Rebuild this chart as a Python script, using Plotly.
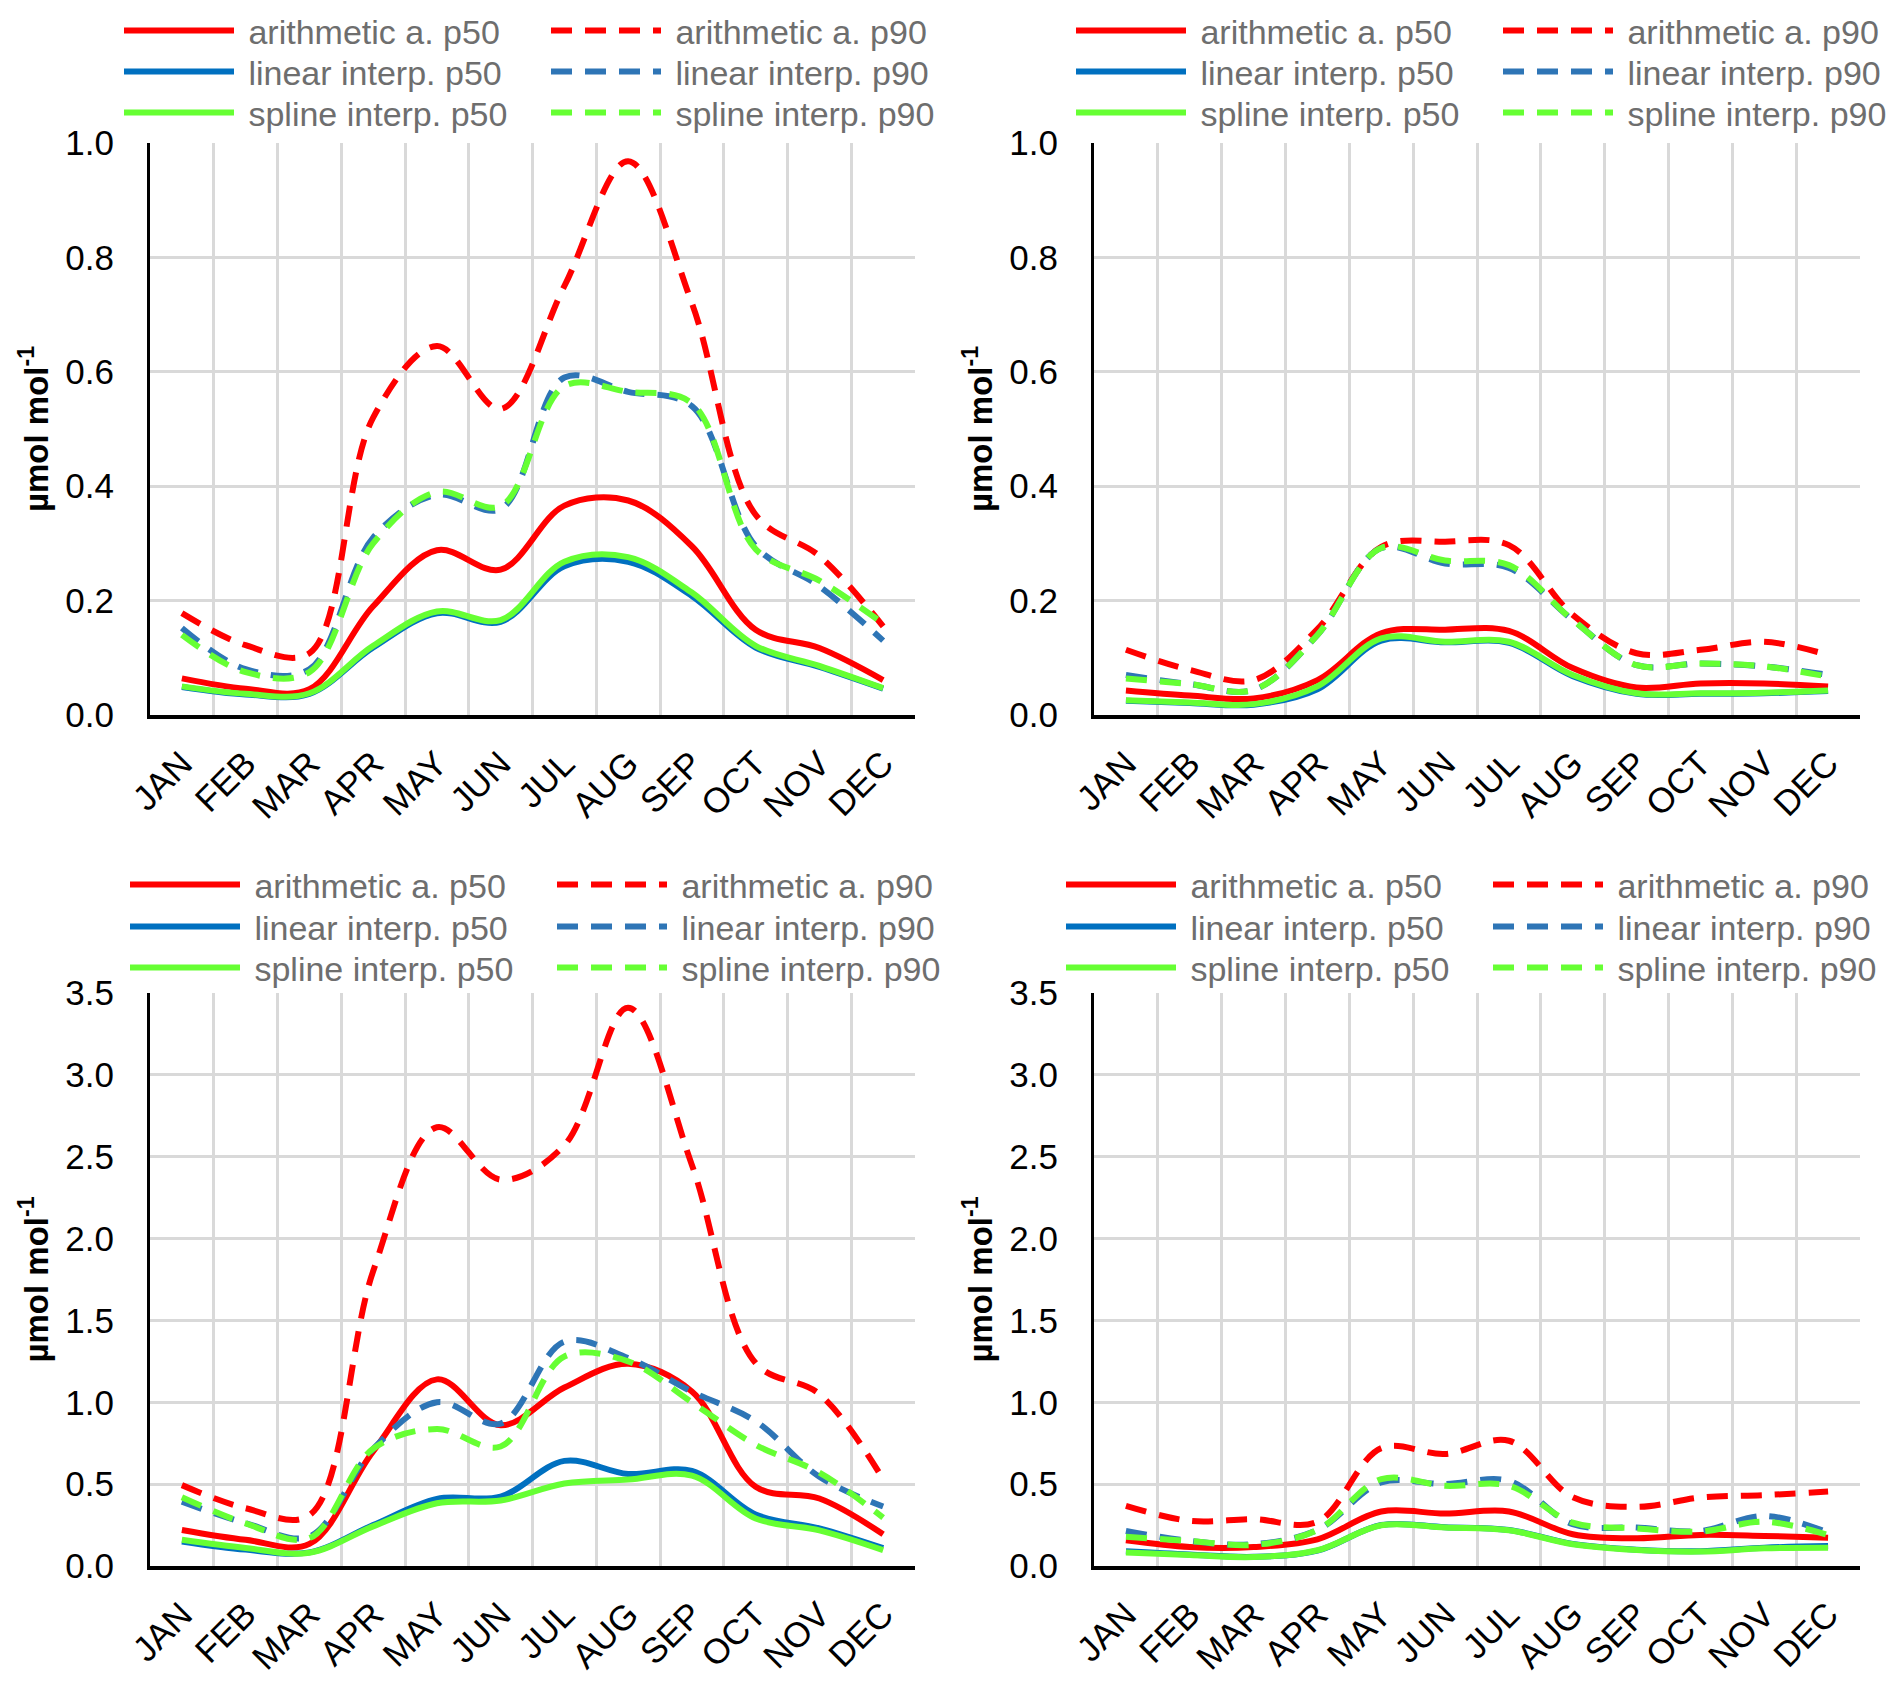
#!/usr/bin/env python3
"""
Monthly p50 / p90 mixing ratios: arithmetic average vs. linear and spline interpolation
"""

import plotly.graph_objects as go
from plotly.subplots import make_subplots

months = ["JAN", "FEB", "MAR", "APR", "MAY", "JUN", "JUL", "AUG", "SEP", "OCT", "NOV", "DEC"]

# top-left panel
a_arith_p50 = [0.064, 0.046, 0.045, 0.19, 0.288, 0.254, 0.366, 0.375, 0.295, 0.149, 0.117, 0.061]
a_linear_p50 = [0.049, 0.036, 0.037, 0.118, 0.178, 0.163, 0.26, 0.268, 0.208, 0.118, 0.084, 0.046]
a_spline_p50 = [0.05, 0.037, 0.038, 0.121, 0.181, 0.166, 0.268, 0.276, 0.214, 0.121, 0.086, 0.047]
a_arith_p90 = [0.178, 0.122, 0.108, 0.52, 0.645, 0.535, 0.75, 0.968, 0.72, 0.35, 0.278, 0.155]
a_linear_p90 = [0.152, 0.08, 0.08, 0.31, 0.385, 0.36, 0.59, 0.565, 0.54, 0.295, 0.225, 0.13]
a_spline_p90 = [0.14, 0.075, 0.075, 0.30, 0.39, 0.365, 0.575, 0.565, 0.545, 0.29, 0.235, 0.16]

# top-right panel
b_arith_p50 = [0.043, 0.034, 0.029, 0.061, 0.143, 0.149, 0.147, 0.082, 0.048, 0.055, 0.055, 0.05]
b_linear_p50 = [0.025, 0.021, 0.018, 0.045, 0.13, 0.127, 0.126, 0.068, 0.037, 0.037, 0.038, 0.042]
b_spline_p50 = [0.026, 0.022, 0.019, 0.05, 0.134, 0.128, 0.128, 0.07, 0.038, 0.038, 0.039, 0.043]
b_arith_p90 = [0.114, 0.079, 0.061, 0.15, 0.294, 0.303, 0.297, 0.175, 0.108, 0.114, 0.128, 0.105]
b_linear_p90 = [0.07, 0.054, 0.044, 0.14, 0.292, 0.265, 0.257, 0.166, 0.087, 0.09, 0.085, 0.07]
b_spline_p90 = [0.064, 0.054, 0.044, 0.14, 0.292, 0.27, 0.262, 0.166, 0.087, 0.09, 0.085, 0.067]

# bottom-left panel
c_arith_p50 = [0.22, 0.16, 0.135, 0.70, 1.14, 0.86, 1.09, 1.235, 1.066, 0.484, 0.412, 0.194]
c_linear_p50 = [0.15, 0.10, 0.083, 0.25, 0.41, 0.424, 0.642, 0.562, 0.581, 0.315, 0.23, 0.109]
c_spline_p50 = [0.16, 0.11, 0.081, 0.242, 0.383, 0.40, 0.504, 0.528, 0.552, 0.29, 0.218, 0.097]
c_arith_p90 = [0.494, 0.353, 0.31, 1.8, 2.68, 2.36, 2.57, 3.41, 2.45, 1.24, 1.05, 0.53]
c_linear_p90 = [0.393, 0.262, 0.18, 0.716, 1.0, 0.87, 1.37, 1.27, 1.065, 0.884, 0.545, 0.363]
c_spline_p90 = [0.42, 0.26, 0.17, 0.716, 0.837, 0.73, 1.28, 1.25, 1.0, 0.74, 0.57, 0.295]

# bottom-right panel
d_arith_p50 = [0.157, 0.116, 0.116, 0.163, 0.333, 0.32, 0.333, 0.194, 0.169, 0.19, 0.184, 0.173]
d_linear_p50 = [0.09, 0.07, 0.056, 0.094, 0.25, 0.237, 0.22, 0.135, 0.1, 0.09, 0.112, 0.122]
d_spline_p50 = [0.082, 0.067, 0.055, 0.096, 0.249, 0.235, 0.218, 0.133, 0.098, 0.088, 0.108, 0.112]
d_arith_p90 = [0.367, 0.276, 0.286, 0.27, 0.72, 0.684, 0.765, 0.42, 0.361, 0.418, 0.433, 0.455]
d_linear_p90 = [0.214, 0.153, 0.133, 0.22, 0.51, 0.5, 0.52, 0.255, 0.235, 0.214, 0.306, 0.204]
d_spline_p90 = [0.178, 0.153, 0.129, 0.22, 0.53, 0.49, 0.49, 0.265, 0.23, 0.21, 0.27, 0.19]

panels = [
    (a_arith_p50, a_arith_p90, a_linear_p50, a_linear_p90, a_spline_p50, a_spline_p90),
    (b_arith_p50, b_arith_p90, b_linear_p50, b_linear_p90, b_spline_p50, b_spline_p90),
    (c_arith_p50, c_arith_p90, c_linear_p50, c_linear_p90, c_spline_p50, c_spline_p90),
    (d_arith_p50, d_arith_p90, d_linear_p50, d_linear_p90, d_spline_p50, d_spline_p90),
]
series_names = [
    "arithmetic a. p50", "arithmetic a. p90",
    "linear interp. p50", "linear interp. p90",
    "spline interp. p50", "spline interp. p90",
]
series_colors = ["#FF0000", "#FF0000", "#0070C0", "#2E75B6", "#66FF33", "#66FF33"]
y_ranges = [(1.0, 0.2), (1.0, 0.2), (3.5, 0.5), (3.5, 0.5)]

W, H = 1892, 1689
# plot areas in pixels: (left, right, top, bottom)
boxes = [(150, 915, 143, 715), (1094, 1860, 143, 715), (150, 915, 993, 1566), (1094, 1860, 993, 1566)]
# legend: left edge of first sample and row centres
legend_x = [125, 1077, 131, 1067]
legend_rows = [(31, 72, 113), (31, 72, 113), (885, 927, 968), (885, 927, 968)]

FONT = "Arial, Liberation Sans, sans-serif"

fig = make_subplots(rows=2, cols=2)

for p, data in enumerate(panels):
    row, col = p // 2 + 1, p % 2 + 1
    for s, values in enumerate(data):
        fig.add_trace(
            go.Scatter(
                x=months,
                y=values,
                # leading no-break space widens the gap between sample and text
                name="\u00a0" + series_names[s],
                mode="lines",
                line=dict(
                    color=series_colors[s],
                    width=6,
                    shape="spline",
                    dash="solid" if s % 2 == 0 else "21px,13px",
                ),
                legend="legend" if p * 3 + s // 2 == 0 else f"legend{p * 3 + s // 2 + 1}",
                hoverinfo="x+y+name",
            ),
            row=row,
            col=col,
        )

layout = dict(
    width=W,
    height=H,
    margin=dict(l=0, r=0, t=0, b=0, autoexpand=False),
    paper_bgcolor="white",
    plot_bgcolor="white",
    font=dict(family=FONT, color="black"),
)

for p in range(4):
    left, right, top, bottom = boxes[p]
    ymax, dtick = y_ranges[p]
    suffix = "" if p == 0 else str(p + 1)
    layout["xaxis" + suffix] = dict(
        domain=[left / W, right / W],
        type="category",
        range=[-0.5, 11.5],
        tickson="boundaries",
        showgrid=True,
        gridcolor="#D9D9D9",
        gridwidth=3,
        showline=True,
        linecolor="black",
        linewidth=4,
        ticks="",
        tickangle=-45,
        ticklabelstandoff=10,
        tickfont=dict(size=35, color="black"),
        zeroline=False,
        automargin=False,
    )
    layout["yaxis" + suffix] = dict(
        domain=[1 - bottom / H, 1 - top / H],
        range=[0, ymax],
        dtick=dtick,
        tickformat=".1f",
        showgrid=True,
        gridcolor="#D9D9D9",
        gridwidth=3,
        showline=True,
        linecolor="black",
        linewidth=3,
        ticks="",
        ticklabelstandoff=26,
        tickfont=dict(size=35, color="black"),
        zeroline=False,
        automargin=False,
        title=dict(
            text="<b>µmol mol<sup>-1</sup></b>",
            font=dict(size=33, color="black"),
            standoff=7,
        ),
    )
    for r in range(3):
        idx = p * 3 + r
        key = "legend" if idx == 0 else f"legend{idx + 1}"
        layout[key] = dict(
            orientation="h",
            x=(legend_x[p] - 6) / W,
            xanchor="left",
            y=1 - legend_rows[p][r] / H,
            yanchor="middle",
            font=dict(size=34, color="#6E6E6E", family=FONT),
            itemwidth=110,
            entrywidth=302,
            entrywidthmode="pixels",
            bgcolor="rgba(0,0,0,0)",
            borderwidth=0,
        )

fig.update_layout(layout)
# drop the browser's default body margin so the figure sits at the page origin
fig.write_html(
    "out.html",
    config={"displayModeBar": False},
    post_script="document.body.style.margin='0';document.body.style.overflow='hidden';",
)
